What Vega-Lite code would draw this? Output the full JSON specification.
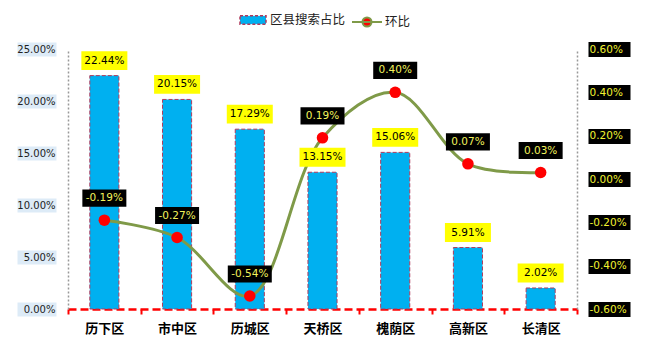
{
  "$schema": "https://vega.github.io/schema/vega-lite/v6.json",
  "autosize": {"type": "fit", "contains": "padding"},
  "width": 646,
  "height": 356,
  "padding": {"left": 10, "right": 8, "top": 41, "bottom": 21},
  "background": "white",
  "config": {
    "view": {"stroke": null},
    "font": "DejaVu Sans",
    "locale": {"number": {"decimal": ".", "thousands": ",", "grouping": [3], "currency": ["", ""], "minus": "-"}},
    "legend": {"orient": "none", "direction": "horizontal", "labelFont": "Noto Sans CJK SC", "labelFontSize": 12.5, "labelColor": "#222", "title": null, "padding": 0}
  },
  "data": {
    "values": [
      {"district": "历下区", "share": 0.2244, "mom": -0.0019},
      {"district": "市中区", "share": 0.2015, "mom": -0.0027},
      {"district": "历城区", "share": 0.1729, "mom": -0.0054},
      {"district": "天桥区", "share": 0.1315, "mom": 0.0019},
      {"district": "槐荫区", "share": 0.1506, "mom": 0.0040},
      {"district": "高新区", "share": 0.0591, "mom": 0.0007},
      {"district": "长清区", "share": 0.0202, "mom": 0.0003}
    ]
  },
  "encoding": {
    "x": {
      "field": "district", "type": "nominal", "sort": null,
      "scale": {"paddingInner": 0, "paddingOuter": 0},
      "axis": {
        "title": null, "labelAngle": 0,
        "labelFont": "Noto Sans CJK SC", "labelFontWeight": "bold", "labelFontSize": 13, "labelColor": "#000",
        "labelPadding": 8,
        "domainColor": "#FF0000", "domainWidth": 2.5, "domainDash": [8, 4],
        "tickColor": "#FF0000", "tickWidth": 2, "tickSize": 5, "tickBand": "extent"
      }
    }
  },
  "layer": [
    {
      "mark": {"type": "bar", "width": {"band": 0.4}, "stroke": "#B03A5B", "strokeWidth": 1, "strokeDash": [4, 2]},
      "encoding": {
        "y": {
          "field": "share", "type": "quantitative",
          "scale": {"domain": [0, 0.25], "nice": false, "zero": true},
          "axis": {
            "orient": "left", "title": null, "format": ".2%", "values": [0, 0.05, 0.1, 0.15, 0.2, 0.25],
            "grid": false,
            "domainColor": "#999999", "domainDash": [2, 2], "domainWidth": 1.5,
            "tickColor": "#DDEBF7", "tickSize": 51, "tickWidth": 14, "tickDash": [0, 12, 39],
            "labelPadding": -38, "labelFontSize": 10, "labelColor": "#222", "labelFont": "DejaVu Sans"
          }
        },
        "fill": {
          "datum": "区县搜索占比", "type": "nominal",
          "scale": {"range": ["#00B0F0"]},
          "legend": {"legendX": 171, "legendY": -43, "symbolType": "M-1,-0.32H1V0.32H-1Z", "symbolSize": 676, "symbolStrokeColor": "#B03A5B", "symbolStrokeWidth": 1.5, "symbolDash": [3, 2], "labelOffset": 3}
        }
      }
    },
    {
      "encoding": {
        "y": {
          "field": "mom", "type": "quantitative",
          "scale": {"domain": [-0.006, 0.006], "nice": false, "zero": false},
          "axis": {
            "orient": "right", "title": null, "format": ".2%", "values": [-0.006, -0.004, -0.002, 0, 0.002, 0.004, 0.006],
            "grid": false,
            "domainColor": "#999999", "domainDash": [2, 2], "domainWidth": 1.5,
            "tickColor": "#000000", "tickSize": 53, "tickWidth": 15, "tickDash": [0, 11, 42],
            "labelPadding": -41, "labelAlign": "left", "labelFontSize": 10.5, "labelColor": "#F2F230", "labelFont": "DejaVu Sans"
          }
        }
      },
      "layer": [
        {
          "mark": {"type": "line", "interpolate": "catmull-rom", "strokeWidth": 3},
          "encoding": {
            "stroke": {
              "datum": "环比", "type": "nominal",
              "scale": {"range": ["#7F9A48"]},
              "legend": {"legendX": 283, "legendY": -43, "symbolType": "M-1,0H1M0.3,0A0.3,0.3 0 1,1 -0.3,0A0.3,0.3 0 1,1 0.3,0Z", "symbolSize": 900, "symbolFillColor": "#FF0000", "symbolStrokeWidth": 2, "labelOffset": 2}
            }
          }
        },
        {
          "mark": {"type": "point", "shape": "circle", "size": 133, "filled": true, "fill": "#FF0000", "opacity": 1, "strokeWidth": 0}
        }
      ]
    },
    {
      "encoding": {
        "y": {
          "field": "share", "type": "quantitative",
          "scale": {"domain": [0, 0.25], "nice": false, "zero": true},
          "axis": null
        }
      },
      "layer": [
        {
          "mark": {"type": "point", "shape": "M-1,-0.41H1V0.41H-1Z", "size": 2116, "filled": true, "fill": "#FFFF00", "opacity": 1, "strokeWidth": 0, "yOffset": -15}
        },
        {
          "mark": {"type": "text", "yOffset": -15, "fontSize": 10.5, "color": "#000", "baseline": "middle", "font": "DejaVu Sans"},
          "encoding": {"text": {"field": "share", "type": "quantitative", "format": ".2%"}}
        }
      ]
    },
    {
      "encoding": {
        "y": {
          "field": "mom", "type": "quantitative",
          "scale": {"domain": [-0.006, 0.006], "nice": false, "zero": false},
          "axis": null
        }
      },
      "layer": [
        {
          "mark": {"type": "point", "shape": "M-1,-0.39H1V0.39H-1Z", "size": 1936, "filled": true, "fill": "#000000", "opacity": 1, "strokeWidth": 0, "yOffset": -22}
        },
        {
          "mark": {"type": "text", "yOffset": -22, "fontSize": 10.5, "color": "#F2F25C", "baseline": "middle", "font": "DejaVu Sans"},
          "encoding": {"text": {"field": "mom", "type": "quantitative", "format": ".2%"}}
        }
      ]
    }
  ],
  "resolve": {"scale": {"y": "independent"}}
}
